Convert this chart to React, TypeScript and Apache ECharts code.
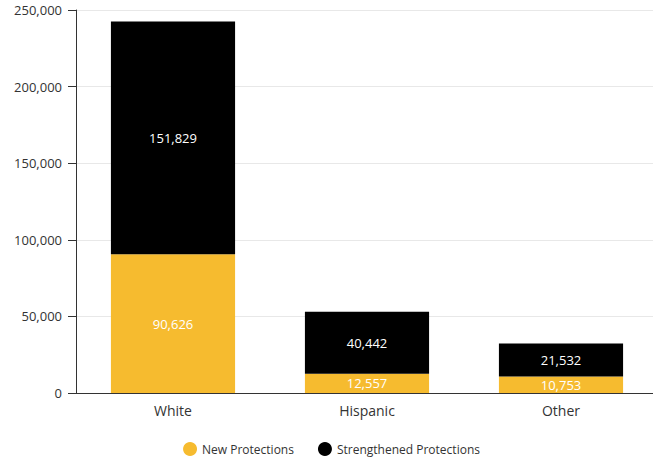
import React, { useEffect, useRef } from "react";
import * as echarts from "echarts";

const categories = ["White", "Hispanic", "Other"];
const newProtections = [90626, 12557, 10753];
const strengthenedProtections = [151829, 40442, 21532];
const seriesNames = ["New Protections", "Strengthened Protections"];

const FONT = "'Open Sans', sans-serif";

export default function App() {
  const ref = useRef<HTMLDivElement>(null);
  useEffect(() => {
    const chart = echarts.init(ref.current!, null, { renderer: "svg" });
    const fmt = (v: number) => v.toLocaleString("en-US");
    const label = {
      show: true,
      position: "inside",
      color: "#ffffff",
      fontSize: 13,
      fontFamily: FONT,
      formatter: (p: any) => fmt(p.value),
    };
    chart.setOption({
      animation: false,
      textStyle: { fontFamily: FONT },
      grid: { left: 76, right: 5, top: 10, bottom: 70, containLabel: false },
      legend: {
        bottom: 2,
        left: "center",
        icon: "circle",
        itemWidth: 14,
        itemHeight: 14,
        itemGap: 24,
        textStyle: { color: "#333", fontSize: 12, fontFamily: FONT },
        data: seriesNames,
      },
      xAxis: {
        type: "category",
        data: categories,
        axisLine: { lineStyle: { color: "#333" } },
        axisTick: { alignWithLabel: true, length: 6, lineStyle: { color: "#333" } },
        axisLabel: { color: "#333", fontSize: 14, margin: 10, fontFamily: FONT },
      },
      yAxis: {
        type: "value",
        min: 0,
        max: 250000,
        interval: 50000,
        axisLine: { show: true, lineStyle: { color: "#333" } },
        axisTick: { show: true, length: 8, lineStyle: { color: "#333" } },
        axisLabel: {
          color: "#333",
          fontSize: 13,
          margin: 14,
          fontFamily: FONT,
          formatter: (v: number) => fmt(v),
        },
        splitLine: { lineStyle: { color: "#e8e8e8" } },
      },
      series: [
        {
          name: seriesNames[0],
          type: "bar",
          stack: "total",
          data: newProtections,
          barWidth: "64%",
          itemStyle: { color: "#F6BB2F" },
          label,
        },
        {
          name: seriesNames[1],
          type: "bar",
          stack: "total",
          data: strengthenedProtections,
          barWidth: "64%",
          itemStyle: { color: "#000000" },
          label,
        },
      ],
    });
    return () => chart.dispose();
  }, []);
  return (
    <div style={{ position: "absolute", left: 0, top: 0, width: 653, height: 463, overflow: "hidden" }}>
      <div ref={ref} style={{ width: 663, height: 463 }} />
    </div>
  );
}
